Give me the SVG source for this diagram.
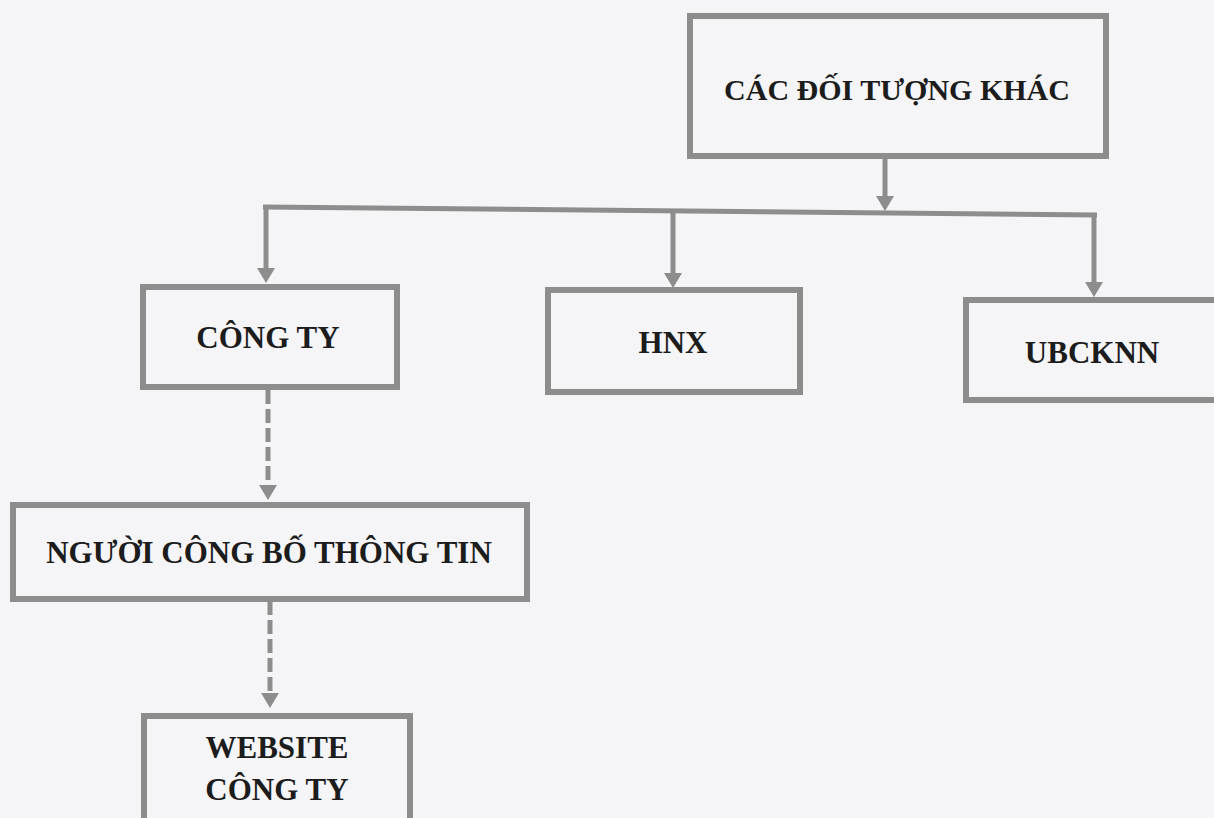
<svg xmlns="http://www.w3.org/2000/svg" width="1214" height="818" viewBox="0 0 1214 818">
<style>
.box{fill:#f5f5f7;stroke:#8d8d8d;stroke-width:6}
.lbl{font-family:"Liberation Serif","Times New Roman",serif;font-weight:bold;font-size:31px;fill:#1c1c1c;text-anchor:middle}
.con{stroke:#8d8d8d;stroke-width:5;fill:none}
.dash{stroke-dasharray:14 5}
</style>
<defs>
<marker id="ah" markerUnits="userSpaceOnUse" markerWidth="18" markerHeight="20" refX="0" refY="9" orient="auto">
<path d="M0,0 L15,9 L0,18 z" fill="#8d8d8d"/>
</marker>
</defs>
<rect width="1214" height="818" fill="#f5f5f7"/>
<g id="connectors">
<line class="con" x1="885" y1="157" x2="885" y2="196" marker-end="url(#ah)"/>
<line class="con" x1="263" y1="207" x2="1097" y2="215"/>
<line class="con" x1="266" y1="207" x2="266" y2="268" marker-end="url(#ah)"/>
<line class="con" x1="673" y1="210" x2="673" y2="273" marker-end="url(#ah)"/>
<line class="con" x1="1094" y1="215" x2="1094" y2="282" marker-end="url(#ah)"/>
<line class="con dash" x1="268" y1="390" x2="268" y2="485" marker-end="url(#ah)"/>
<line class="con dash" x1="270" y1="601" x2="270" y2="693" marker-end="url(#ah)"/>
</g>
<g id="cac-doi-tuong-khac">
<rect class="box" x="690" y="16" width="416" height="140"/>
<text class="lbl" x="897" y="100" style="font-size:30px">CÁC ĐỐI TƯỢNG KHÁC</text>
</g>
<g id="cong-ty">
<rect class="box" x="143" y="287" width="254" height="100"/>
<text class="lbl" x="268" y="348">CÔNG TY</text>
</g>
<g id="hnx">
<rect class="box" x="548" y="290" width="252" height="102"/>
<text class="lbl" x="673" y="353">HNX</text>
</g>
<g id="ubcknn">
<rect class="box" x="966" y="300" width="260" height="100"/>
<text class="lbl" x="1092" y="363">UBCKNN</text>
</g>
<g id="nguoi-cong-bo-thong-tin">
<rect class="box" x="13" y="505" width="514" height="94"/>
<text class="lbl" x="269" y="563">NGƯỜI CÔNG BỐ THÔNG TIN</text>
</g>
<g id="website-cong-ty">
<rect class="box" x="144" y="716" width="266" height="110"/>
<text class="lbl" x="277" y="758">WEBSITE</text>
<text class="lbl" x="277" y="800">CÔNG TY</text>
</g>
</svg>
